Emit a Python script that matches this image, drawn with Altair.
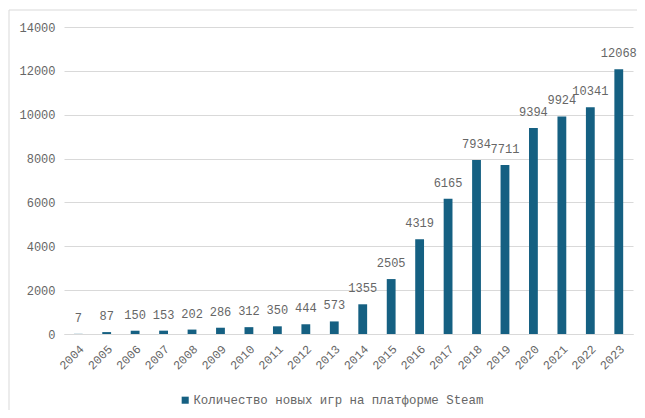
import altair as alt
import pandas as pd

years = [str(y) for y in range(2004, 2024)]
values = [7, 87, 150, 153, 202, 286, 312, 350, 444, 573, 1355, 2505, 4319, 6165, 7934, 7711, 9394, 9924, 10341, 12068]
series_name = "Количество новых игр на платформе Steam"

df = pd.DataFrame({"year": years, "value": values, "series": [series_name] * len(years)})

FONT = "Liberation Mono"
GRAY = "#666666"
BAR = "#156082"

x = alt.X("year:N", sort=years, title=None,
          scale=alt.Scale(paddingInner=0.69, paddingOuter=0.345),
          axis=alt.Axis(labelAngle=-45, ticks=False, domain=True, domainColor="#d9d9d9",
                        labelColor=GRAY, labelFont=FONT, labelFontSize=12, labelPadding=9))
y = alt.Y("value:Q", title=None,
          scale=alt.Scale(domain=[0, 14000]),
          axis=alt.Axis(values=list(range(0, 14001, 2000)), domain=False, ticks=False,
                        labelColor=GRAY, labelFont=FONT, labelFontSize=12, labelPadding=9,
                        gridColor="#d9d9d9", format="d"))

bars = alt.Chart(df).mark_bar().encode(
    x=x, y=y,
    color=alt.Color("series:N", scale=alt.Scale(range=[BAR]), title=None,
                    legend=alt.Legend(orient="none", legendX=115, legendY=367,
                                      direction="horizontal", symbolType="square",
                                      symbolSize=50, labelFont=FONT, labelFontSize=12.4,
                                      labelColor=GRAY, symbolStrokeWidth=0, labelLimit=400,
                                      labelOffset=2))
)

labels = alt.Chart(df).mark_text(dy=-16, font=FONT, fontSize=12, color=GRAY).encode(
    x=alt.X("year:N", sort=years), y="value:Q", text="value:Q"
)

border = alt.Chart(pd.DataFrame({"a": [0]})).mark_rule(color="#d9d9d9", strokeWidth=1, clip=False).encode(
    x=alt.value(-55), x2=alt.value(-55), y=alt.value(-17), y2=alt.value(383)
)
border_top = alt.Chart(pd.DataFrame({"a": [0]})).mark_rule(color="#d9d9d9", strokeWidth=1, clip=False).encode(
    x=alt.value(-55), x2=alt.value(573), y=alt.value(-17), y2=alt.value(-17)
)

chart = alt.layer(bars, labels, border, border_top).properties(
    width=569, height=307,
    autosize=alt.AutoSizeParams(type="none"),
    padding={"left": 56, "top": 19, "right": 4, "bottom": 76},
).configure_view(stroke=None)

chart.save("out.html", embed_options={"renderer": "svg", "actions": False})
